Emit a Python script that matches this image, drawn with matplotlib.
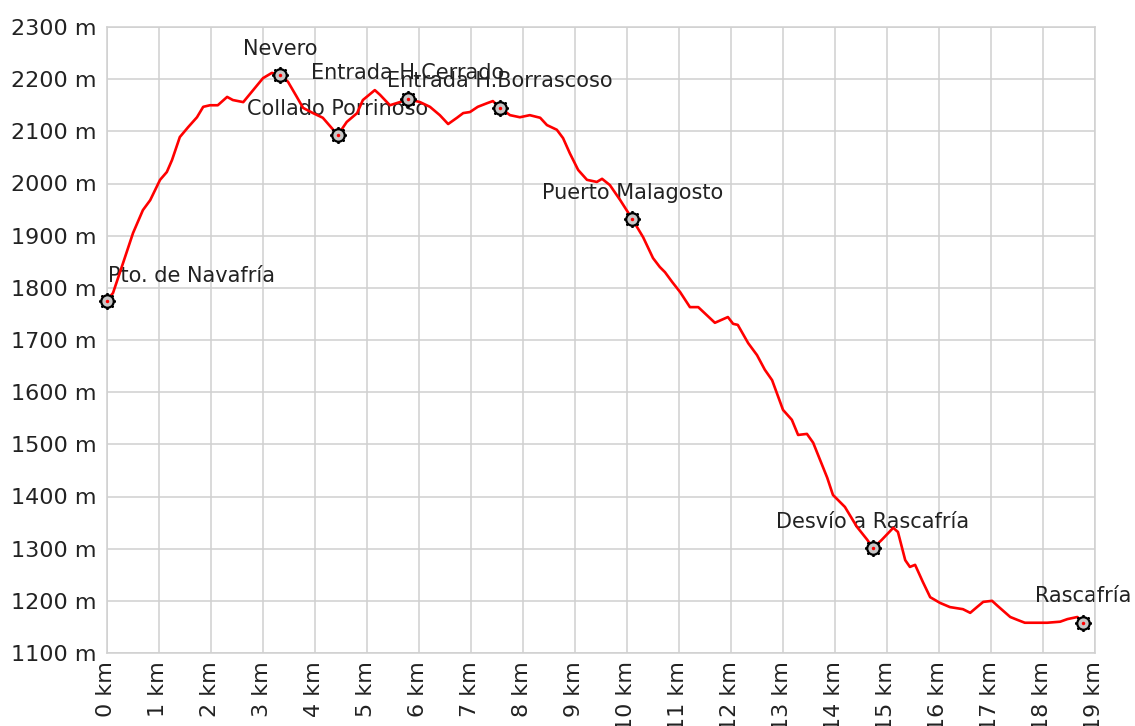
import matplotlib
matplotlib.use("Agg")
import matplotlib.pyplot as plt
from matplotlib.ticker import FixedLocator

# Elevation profile (distance in km, elevation in m)
dist_km = [0.00, 0.125, 0.32, 0.51, 0.70, 0.84, 1.03, 1.16, 1.26, 1.41, 1.57, 1.74,
           1.86, 1.99, 2.14, 2.32, 2.43, 2.63, 2.82, 3.01, 3.18, 3.34, 3.49, 3.66,
           3.78, 3.97, 4.16, 4.36, 4.45, 4.62, 4.82, 4.93, 5.16, 5.26, 5.45, 5.64,
           5.80, 6.03, 6.22, 6.41, 6.57, 6.74, 6.86, 6.99, 7.14, 7.32, 7.43, 7.57,
           7.76, 7.95, 8.14, 8.34, 8.47, 8.66, 8.78, 8.91, 9.07, 9.24, 9.43, 9.53,
           9.68, 9.88, 10.11, 10.32, 10.51, 10.64, 10.74, 10.88, 11.03, 11.22, 11.38,
           11.70, 11.95, 12.05, 12.14, 12.34, 12.51, 12.66, 12.80, 13.01, 13.18,
           13.30, 13.47, 13.59, 13.86, 13.97, 14.20, 14.43, 14.63, 14.74, 14.91,
           15.13, 15.22, 15.36, 15.45, 15.55, 15.70, 15.84, 16.03, 16.22, 16.47,
           16.61, 16.74, 16.86, 17.03, 17.14, 17.38, 17.53, 17.66, 18.09, 18.34,
           18.48, 18.67, 18.78]
elev_m = [1775, 1790, 1848, 1905, 1949, 1968, 2007, 2022, 2045, 2089, 2108, 2127,
          2147, 2150, 2150, 2166, 2160, 2156, 2179, 2202, 2212, 2208, 2195, 2166,
          2145, 2135, 2126, 2103, 2093, 2118, 2135, 2160, 2179, 2170, 2150, 2156,
          2162, 2156, 2147, 2131, 2114, 2126, 2135, 2137, 2147, 2154, 2158, 2145,
          2131, 2127, 2131, 2126, 2112, 2103, 2087, 2058, 2026, 2007, 2003, 2009,
          1997, 1968, 1932, 1897, 1857, 1840, 1830, 1811, 1792, 1763, 1763,
          1733, 1744, 1731, 1729, 1694, 1671, 1643, 1623, 1566, 1547,
          1518, 1520, 1503, 1436, 1403, 1380, 1342, 1317, 1301, 1317,
          1340, 1332, 1278, 1265, 1269, 1236, 1207, 1196, 1188, 1184,
          1177, 1188, 1198, 1200, 1190, 1169, 1163, 1158, 1158, 1160,
          1165, 1169, 1158]

# Waypoints
wp_names = ["Pto. de Navafría", "Nevero", "Collado Porrinoso", "Entrada H.Cerrado",
            "Entrada H.Borrascoso", "Puerto Malagosto", "Desvío a Rascafría", "Rascafría"]
wp_km = [0.00, 3.34, 4.45, 5.80, 7.57, 10.11, 14.74, 18.78]
wp_m = [1775, 2208, 2093, 2162, 2145, 1932, 1301, 1158]

x_ticks = list(range(0, 20))
x_labels = [f"{k} km" for k in x_ticks]
y_ticks = list(range(1100, 2301, 100))
y_labels = [f"{v} m" for v in y_ticks]

plt.rcParams['font.family'] = ['DejaVu Sans']

fig = plt.figure(figsize=(11.35, 7.26), dpi=100)
ax = fig.add_axes([106.5 / 1135, 1 - 653 / 726, (1094.5 - 106.5) / 1135, (653 - 27) / 726])

ax.set_xlim(0, 19)
ax.set_ylim(1100, 2300)
ax.xaxis.set_major_locator(FixedLocator(x_ticks))
ax.yaxis.set_major_locator(FixedLocator(y_ticks))
ax.set_xticklabels(x_labels, rotation=90, fontsize=16, color='#222222')
ax.set_yticklabels(y_labels, fontsize=16, color='#222222')
ax.tick_params(axis='both', length=0)
ax.tick_params(axis='x', pad=6)
ax.tick_params(axis='y', pad=7)

ax.grid(True, color='#d0d0d0', linewidth=1.1)
ax.set_axisbelow(True)
for s in ax.spines.values():
    s.set_color('#d0d0d0')
    s.set_linewidth(1.1)

ax.plot(dist_km, elev_m, color='#ff0000', linewidth=1.9, zorder=3, clip_on=False)

# waypoint markers: gear-like circle
ax.plot(wp_km, wp_m, linestyle='none', marker=(8, 2, 0), markersize=12,
        markeredgecolor='black', markeredgewidth=1.3, zorder=4, clip_on=False)
ax.plot(wp_km, wp_m, linestyle='none', marker='o', markersize=9,
        markerfacecolor=(0.78, 0.78, 0.78, 1.0), markeredgecolor='black',
        markeredgewidth=1.6, zorder=5, clip_on=False)
ax.plot(wp_km, wp_m, linestyle='none', marker='o', markersize=2.5,
        markerfacecolor='#ff0000', markeredgecolor='none', zorder=6, clip_on=False)

for name, xk, ym in zip(wp_names, wp_km, wp_m):
    if xk <= 0.5:
        ax.annotate(name, (xk, ym), xytext=(1, 18), textcoords='offset points',
                    ha='left', va='center', fontsize=15, color='#222222', zorder=2)
    else:
        ax.annotate(name, (xk, ym), xytext=(0, 19), textcoords='offset points',
                    ha='center', va='center', fontsize=15, color='#222222', zorder=2)

fig.savefig('out.png', dpi=100)
